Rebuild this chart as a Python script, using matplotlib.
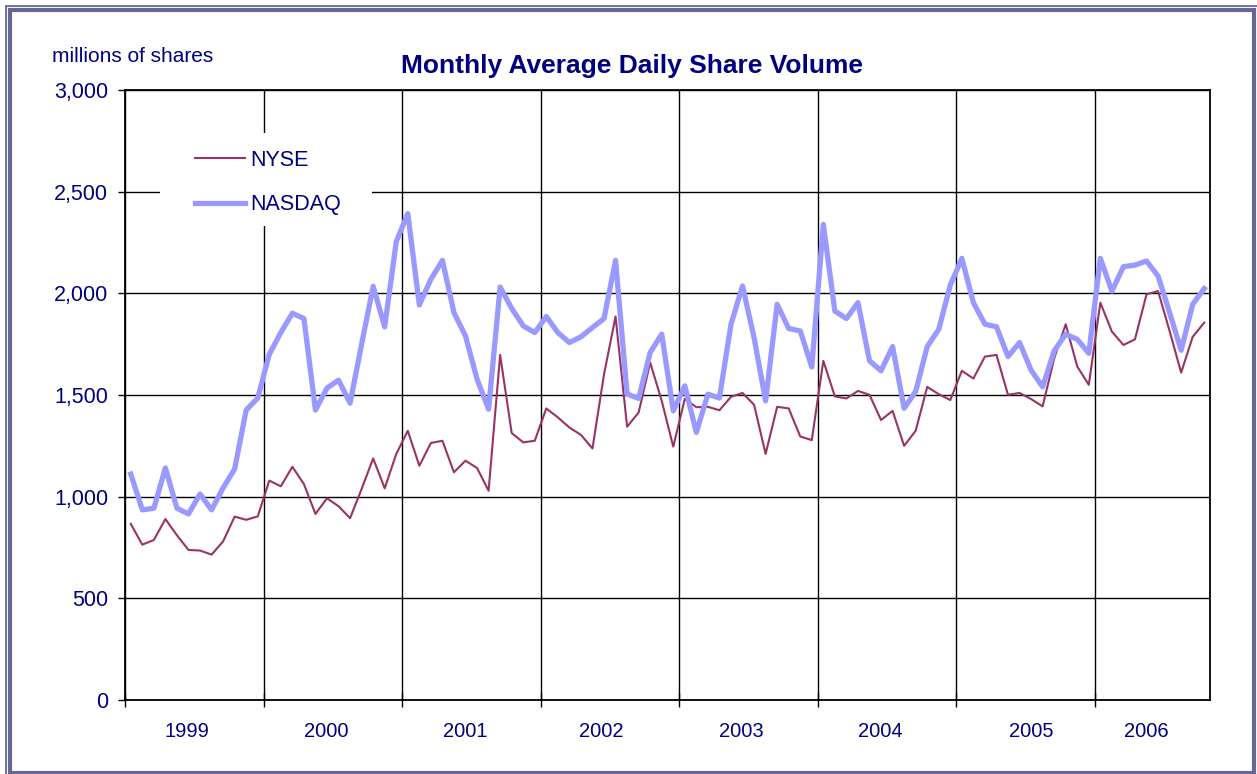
import matplotlib.pyplot as plt
from matplotlib.patches import Rectangle
import numpy as np

plt.rcParams['font.family'] = ['Liberation Sans', 'DejaVu Sans']

# data (millions of shares, monthly, Jan 1999 - Oct 2006)
years = ['1999', '2000', '2001', '2002', '2003', '2004', '2005', '2006']

nyse = [866, 764, 787, 890, 810, 738, 735, 715, 780, 902, 886, 903,
        1079, 1051, 1147, 1062, 915, 992, 953, 894, 1038, 1188, 1041, 1210,
        1324, 1152, 1264, 1275, 1120, 1177, 1141, 1029, 1697, 1313, 1267, 1275,
        1434, 1390, 1340, 1304, 1237, 1602, 1886, 1344, 1414, 1660, 1471, 1246,
        1481, 1440, 1442, 1425, 1491, 1510, 1452, 1210, 1442, 1434, 1296, 1278,
        1668, 1493, 1483, 1520, 1501, 1377, 1422, 1250, 1324, 1540, 1504, 1475,
        1619, 1581, 1689, 1697, 1501, 1510, 1480, 1444, 1680, 1848, 1640, 1550,
        1954, 1812, 1746, 1774, 1995, 2011, 1815, 1610, 1786, 1856]

nasdaq = [1111, 935, 943, 1141, 943, 915, 1013, 935, 1043, 1136, 1426, 1485,
          1700, 1807, 1902, 1876, 1426, 1534, 1573, 1460, 1750, 2034, 1835, 2254,
          2392, 1943, 2069, 2162, 1905, 1790, 1578, 1430, 2031, 1926, 1840, 1807,
          1886, 1807, 1758, 1786, 1832, 1876, 2162, 1505, 1483, 1709, 1799, 1422,
          1545, 1316, 1504, 1485, 1848, 2036, 1782, 1471, 1946, 1827, 1815, 1638,
          2339, 1913, 1876, 1954, 1668, 1619, 1738, 1435, 1517, 1738, 1823, 2040,
          2172, 1954, 1848, 1836, 1689, 1758, 1622, 1540, 1717, 1799, 1774, 1705,
          2172, 2011, 2131, 2139, 2159, 2085, 1905, 1720, 1946, 2023]

navy = '#000080'
W, H = 1257, 774

fig = plt.figure(figsize=(W / 100, H / 100), dpi=100)
ax = fig.add_axes([125 / W, (H - 700) / H, (1210 - 125) / W, 610 / H])

x = np.arange(len(nyse)) + 0.5
ax.plot(x, nyse, color='#993366', lw=1.5, label='NYSE', zorder=3)
ax.plot(x, nasdaq, color='#9999FF', lw=3.8, label='NASDAQ', zorder=4)

ax.set_xlim(0, len(nyse))
ax.set_ylim(0, 3000)

# y axis
ax.set_yticks(np.arange(0, 3001, 500))
ax.set_yticklabels([f'{v:,}' for v in range(0, 3001, 500)])
ax.tick_params(axis='y', direction='out', length=5, width=1, colors='black',
               labelcolor=navy, labelsize=15.5, pad=7)

# x axis: ticks at year boundaries, year labels roughly mid-year
ax.set_xticks(np.arange(0, len(nyse) + 1, 12))
ax.set_xticklabels([])
ax.set_xticks([5.4, 17.4, 29.5, 41.3, 53.4, 65.4, 78.5, 88.5], minor=True)
ax.set_xticklabels(years, minor=True)
ax.tick_params(axis='x', which='major', direction='inout', length=10, width=1)
ax.tick_params(axis='x', which='minor', length=0, labelcolor=navy,
               labelsize=14.5, pad=16)

ax.grid(True, which='major', color='black', lw=1)
ax.set_axisbelow(True)
for s in ax.spines.values():
    s.set_color('black')
    s.set_linewidth(1.3)

# texts
fig.text(632 / W, 1 - 66 / H, 'Monthly Average Daily Share Volume',
         ha='center', va='center', color=navy, fontsize=19, fontweight='bold')
fig.text(52 / W, 1 - 57 / H, 'millions of shares', ha='left', va='center',
         color=navy, fontsize=15)

# white legend area covering grid
fig.patches.append(Rectangle((160 / W, 1 - 226 / H), 212 / W, 93 / H,
                             transform=fig.transFigure, facecolor='white',
                             edgecolor='none', zorder=5))
leg = fig.legend(loc='upper left', bbox_to_anchor=(195 / W, 1 - 150 / H),
                 frameon=False, fontsize=15.5, handlelength=2.3,
                 handletextpad=0.28, labelspacing=1.09, labelcolor=navy,
                 borderpad=0, borderaxespad=0)
leg.set_zorder(6)

# double frame round the picture
fig.patches.append(Rectangle((5.8 / W, -0.1), 1.2, 1.1 - 5.8 / H,
                             transform=fig.transFigure, fill=False,
                             edgecolor='#666699', lw=1.3, zorder=10))
fig.patches.append(Rectangle((10.3 / W, 1.2 / H), (1254 - 10.3) / W,
                             (773 - 10.3) / H, transform=fig.transFigure,
                             fill=False, edgecolor='#666699', lw=3, zorder=10))

fig.savefig('out.png', dpi=100)
